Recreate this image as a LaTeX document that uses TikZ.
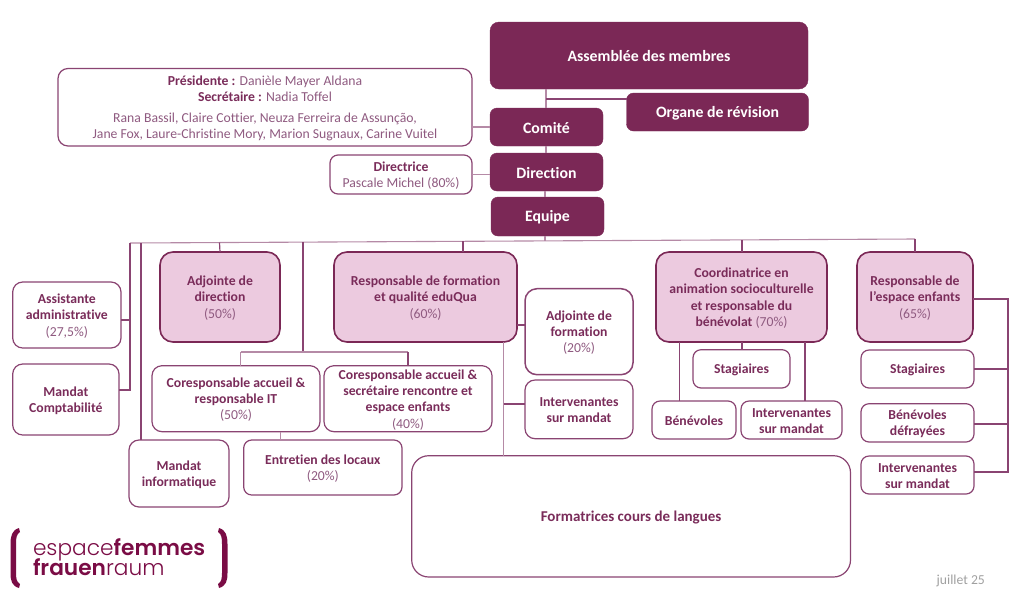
\documentclass[tikz,border=0pt]{standalone}
\usepackage{fontspec}
\setmainfont{Carlito}[Ligatures=NoCommon]
\newfontfamily\logofont{Poppins}[UprightFont=* Light,BoldFont=* SemiBold]
\definecolor{plum}{HTML}{7B2856}
\definecolor{plumtext}{HTML}{7A2C5A}
\definecolor{plumreg}{HTML}{8F5A80}
\definecolor{plumline}{HTML}{8A4472}
\definecolor{plumpale}{HTML}{B58AA6}
\definecolor{pinkfill}{HTML}{ECCADF}
\definecolor{logocol}{HTML}{7A0C45}
\definecolor{dategray}{HTML}{A0A0A0}
\newcommand\bt[1]{\textbf{#1}}
\newcommand\rg[1]{{\color{plumreg}#1}}
\newcommand\bx[8][]{%
  \node[#2,minimum width={(#5-#3)*1pt},minimum height={(#6-#4)*1pt},#1] (#7) at ({(#3+#5)/2},{(#4+#6)/2}) {};
  \node[#2,#1,draw=none,fill=none] (#7-t) at ({(#3+#5)/2},{(#4+#6)/2+1}) {#8}}
\tikzset{
  x=1pt,y=-1pt,
  base/.style={rectangle,rounded corners=8pt,align=center,inner sep=0pt,outer sep=0pt,font=\fontsize{13.7}{16.3}\selectfont,text=plumtext},
  darkbox/.style={base,fill=plum,draw=plum,rounded corners=7pt,text=white,font=\fontsize{15.8}{18}\selectfont\bfseries},
  whitebox/.style={base,draw=plumline,line width=1.2pt,fill=white},
  pinkbox/.style={base,draw=plum,line width=1.6pt,fill=pinkfill,rounded corners=13pt},
  conn/.style={draw=plumline,line width=1.2pt},
  thinconn/.style={draw=plumline,line width=0.8pt},
  paleconn/.style={draw=plumpale,line width=1.1pt},
  logotxt/.style={anchor=base west,inner sep=0pt,outer sep=0pt,text=logocol,font=\logofont\fontsize{21.7}{22}\selectfont},
}
\begin{document}
\begin{tikzpicture}
\useasboundingbox (0,0) rectangle (1024,603);
% boxes
\bx[rounded corners=9pt]{darkbox}{490}{22}{808}{89}{asm}{Assemblée des membres};
\bx{darkbox}{626.5}{93}{808.5}{131}{org}{Organe de révision};
\bx{darkbox}{490}{108}{603}{146}{com}{Comité};
\bx{darkbox}{490}{153}{603}{191}{dir}{\raisebox{1pt}{Direction}};
\bx{darkbox}{491}{197}{604}{236}{equ}{Equipe};
\bx[rounded corners=10pt]{whitebox}{58}{68.5}{472}{146}{info}{\rule{0pt}{0pt}};
\node[inner sep=0pt,align=center,font=\fontsize{13.7}{16.3}\selectfont,text=plumtext] (infoa) at (265,88.5) {\bt{Présidente :} \rg{Danièle Mayer Aldana}\\\bt{Secrétaire :} \rg{Nadia Toffel}};
\node[inner sep=0pt,align=center,font=\fontsize{13.7}{16.3}\selectfont,text=plumreg] (infob) at (265,127) {Rana Bassil, Claire Cottier, Neuza Ferreira de Assunção,\\Jane Fox, Laure-Christine Mory, Marion Sugnaux, Carine Vuitel};
\bx{whitebox}{330}{155}{472}{194}{dtr}{\bt{Directrice}\\\rg{Pascale Michel (80\%)}};
\bx{pinkbox}{160}{252}{280}{342}{adj}{\bt{Adjointe de}\\\bt{direction}\\\rg{(50\%)}};
\bx{pinkbox}{334}{252}{517}{342}{resp}{\bt{Responsable de formation}\\\bt{et qualité eduQua}\\\rg{(60\%)}};
\bx{pinkbox}{656}{252}{827}{342}{coord}{\bt{Coordinatrice en}\\\bt{animation socioculturelle}\\\bt{et responsable du}\\\bt{bénévolat} \rg{(70\%)}};
\bx{pinkbox}{857}{252}{973}{342}{respe}{\bt{Responsable de}\\\bt{l’espace enfants}\\\rg{(65\%)}};
\bx[rounded corners=10pt]{whitebox}{12.7}{282}{121}{348}{assi}{\bt{Assistante}\\\bt{administrative}\\\rg{(27,5\%)}};
\bx[rounded corners=10pt]{whitebox}{12.7}{364}{119}{435}{mcomp}{\bt{Mandat}\\\bt{Comptabilité}};
\bx[rounded corners=10pt]{whitebox}{152}{365.7}{320}{431.7}{cor}{\bt{Coresponsable accueil \&}\\\bt{responsable IT}\\\rg{(50\%)}};
\bx[rounded corners=10pt]{whitebox}{324}{365.7}{492}{431.7}{cos}{\bt{Coresponsable accueil \&}\\\bt{secrétaire rencontre et}\\\bt{espace enfants}\\\rg{(40\%)}};
\bx[rounded corners=10pt]{whitebox}{129}{440}{229}{507}{minf}{\bt{Mandat}\\\bt{informatique}};
\bx{whitebox}{243.7}{440}{402}{495}{ent}{\bt{Entretien des locaux}\\\rg{(20\%)}};
\bx[rounded corners=17pt,font=\fontsize{15}{18}\selectfont]{whitebox}{411.7}{455.7}{850.5}{577}{form}{\bt{Formatrices cours de langues}};
\bx[rounded corners=12pt,line width=1.5pt]{whitebox}{525}{288.7}{633}{374.7}{adjf}{\bt{Adjointe de}\\\bt{formation}\\\rg{(20\%)}};
\bx[rounded corners=10pt]{whitebox}{525}{380}{633}{438.7}{int1}{\bt{Intervenantes}\\\bt{sur mandat}};
\bx{whitebox}{693}{349.7}{790}{388}{sta1}{\bt{Stagiaires}};
\bx{whitebox}{652}{401}{736}{439}{ben}{\bt{Bénévoles}};
\bx{whitebox}{741}{401}{842}{439}{int2}{\bt{Intervenantes}\\\bt{sur mandat}};
\bx{whitebox}{861}{350}{974}{388}{sta2}{\bt{Stagiaires}};
\bx{whitebox}{861}{403.7}{974}{442}{bend}{\bt{Bénévoles}\\\bt{défrayées}};
\bx{whitebox}{861}{456}{974}{494}{int3}{\bt{Intervenantes}\\\bt{sur mandat}};
% bus coordinates
\coordinate (trL) at (130,243);
\coordinate (trR) at (915,239);
\coordinate (busA) at (130,243);
\coordinate (busB) at (141,243);
\coordinate (busC) at (303,242);
\coordinate (coL) at (240.7,352);
\coordinate (coM) at (303,352);
\coordinate (coR) at (408,352);
\coordinate (fx) at (503.6,342);
\coordinate (rb) at (1008,299);
% connectors
\draw[paleconn] (asm.south -| 546,0) -- (com.north -| 546,0);
\draw[paleconn] (com.south -| 546,0) -- (dir.north -| 546,0);
\draw[paleconn] (dir.south -| 545,0) -- (equ.north -| 545,0);
\draw[paleconn] (equ.south -| 545,0) -- (545,241);
\draw[conn] (546,99) -- (org.west |- 0,99);
\draw[paleconn] (info.east |- com.west) -- (com.west);
\draw[paleconn] (dtr.east) -- (dir.west |- dtr.east);
\draw[paleconn] (trL) -- (trR);
\draw[conn] (busA) -- (130,390) -- (mcomp.east |- 0,390);
\draw[conn] (130,320) -- (assi.east |- 0,320);
\draw[conn] (busB) -- (busB |- minf.north);
\draw[conn] (219.5,242.5) -- (adj.north);
\draw[conn] (busC) -- (coM);
\draw[conn] (463,241) -- (463,252);
\draw[conn] (742,240) -- (742,252);
\draw[conn] (trR) -- (915,252);
\draw[paleconn] (coL) -- (coR);
\draw[paleconn] (coL) -- (coL |- cor.north);
\draw[conn] (coR) -- (coR |- cos.north);
\draw[paleconn] (280.7,431.7) -- (280.7,440);
\draw[paleconn] (fx) -- (fx |- form.north);
\draw[conn] (fx |- 0,404) -- (int1.west |- 0,404);
\draw[conn] (resp.east |- 0,325) -- (adjf.west |- 0,325);
\draw[thinconn] (679,342) -- (679,401);
\draw[conn] (742,342) -- (742,349.7);
\draw[conn] (805,342) -- (805,401);
\draw[conn] (respe.east |- rb) -- (rb) -- (1008,472) -- (int3.east |- 0,472);
\draw[conn] (sta2.east) -- (1008,369);
\draw[conn] (bend.east |- 0,424) -- (1008,424);
% logo
\fill[logocol] (19,528) .. controls (12,530) and (10.5,536) .. (10.5,544) -- (10.5,573) .. controls (10.5,581) and (12,586) .. (19,588) -- (20,584) .. controls (16.5,582) and (16,578) .. (16,573) -- (16,544) .. controls (16,538) and (16.5,534) .. (20,532) -- cycle;
\fill[logocol] (219,528) .. controls (226,530) and (227.5,536) .. (227.5,544) -- (227.5,573) .. controls (227.5,581) and (226,586) .. (219,588) -- (218,584) .. controls (221.5,582) and (222,578) .. (222,573) -- (222,544) .. controls (222,538) and (221.5,534) .. (218,532) -- cycle;
\node[logotxt] (lg1) at (33,555) {espace\textbf{femmes}};
\node[logotxt] (lg2) at (33,575) {\textbf{frauen}raum};
\node[anchor=base west,inner sep=0pt,text=dategray,font=\fontsize{13.7}{15}\selectfont] (dat) at (936.5,584) {juillet 25};
\end{tikzpicture}
\end{document}
